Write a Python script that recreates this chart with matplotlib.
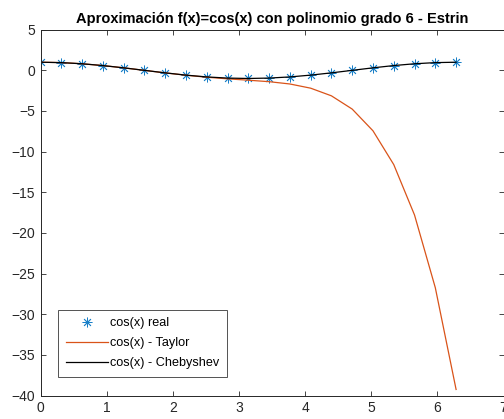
import matplotlib
matplotlib.use("Agg")
import matplotlib.pyplot as plt

plt.rcParams['font.family'] = ['Liberation Sans', 'DejaVu Sans']

x = [0.0, 0.31416, 0.62832, 0.94248, 1.25664, 1.5708, 1.88496, 2.19911, 2.51327,
     2.82743, 3.14159, 3.45575, 3.76991, 4.08407, 4.39823, 4.71239, 5.02655,
     5.34071, 5.65487, 5.96903, 6.28319]
cos_real = [1.0, 0.9511, 0.8090, 0.5878, 0.3090, 0.0, -0.3090, -0.5878, -0.8090,
            -0.9511, -1.0, -0.9511, -0.8090, -0.5878, -0.3090, 0.0, 0.3090,
            0.5878, 0.8090, 0.9511, 1.0]
taylor = [1.0, 0.9511, 0.8090, 0.5878, 0.3089, -0.0009, -0.3128, -0.6006, -0.8459,
          -1.0439, -1.2114, -1.3943, -1.6770, -2.1930, -3.1342, -4.7655, -7.4359,
          -11.5928, -17.7973, -26.7397, -39.2566]
chebyshev = [0.9995, 0.9510, 0.8093, 0.5880, 0.3089, -0.0002, -0.3091, -0.5877, -0.8088,
             -0.9512, -1.0002, -0.9512, -0.8088, -0.5877, -0.3091, -0.0002, 0.3089,
             0.5880, 0.8093, 0.9510, 0.9995]

title = "Aproximación f(x)=cos(x) con polinomio grado 6 - Estrin"
labels = ["cos(x) real", "cos(x) - Taylor", "cos(x) - Chebyshev"]
xticks = [0, 1, 2, 3, 4, 5, 6, 7]
yticks = [5, 0, -5, -10, -15, -20, -25, -30, -35, -40]

fig = plt.figure(figsize=(5.04, 4.19), dpi=100)
ax = fig.add_axes([40.5/504, 1-395.5/419, (503.5-40.5)/504, (395.5-29.7)/419])

ax.plot(x, cos_real, linestyle='none', marker=(8, 2, 0), color='#1A80C8', markersize=7,
        markeredgewidth=0.6, label=labels[0])
ax.plot(x, taylor, color='#D95319', linewidth=0.9, label=labels[1])
ax.plot(x, chebyshev, color='black', linewidth=0.9, label=labels[2])

ax.set_xlim(0, 7)
ax.set_ylim(-40, 5)
ax.set_xticks(xticks)
ax.set_yticks(yticks)
ax.tick_params(direction='in', top=True, right=True, length=3.5, width=0.6,
               labelsize=10, colors='#262626', pad=4)
for s in ax.spines.values():
    s.set_linewidth(0.7)
    s.set_color('#262626')

ax.set_title(title, fontsize=10.5, fontweight='bold', color='black', pad=5)

leg = ax.legend(loc='lower left', bbox_to_anchor=((58-40.5)/463, (395.5-377)/365.8),
                fontsize=9.1, frameon=True, fancybox=False, borderaxespad=0,
                handlelength=3.3, handletextpad=0.2, labelspacing=0.62,
                borderpad=0.62)
leg.get_frame().set_edgecolor('#262626')
leg.get_frame().set_linewidth(0.7)

fig.savefig("out.png", dpi=100)
